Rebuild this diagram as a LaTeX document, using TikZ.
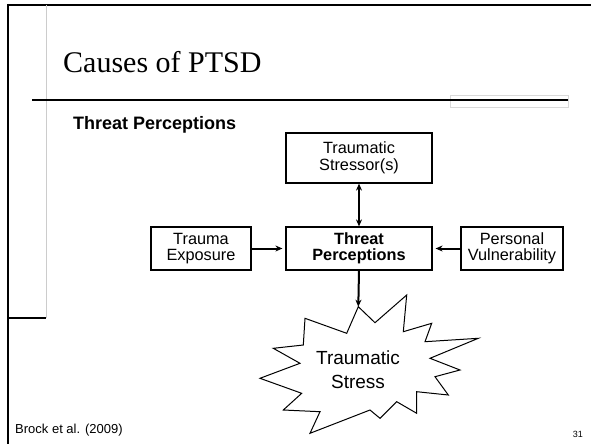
\documentclass[tikz,border=0pt]{standalone}
\usepackage{fontspec}
\setmainfont{Liberation Sans}
\newfontfamily\titlefont{Liberation Serif}
\usetikzlibrary{arrows.meta}
\begin{document}
\begin{tikzpicture}[x=1pt,y=-1pt,
  boxst/.style={draw=black,line width=1.2pt,align=center,inner sep=0pt,
    font=\fontsize{16.3}{16.5}\selectfont},
  conn/.style={line width=2pt,-{Stealth[length=7pt,width=6pt]}},
  rule/.style={line width=2.5pt,black}]
\useasboundingbox (0,0) rectangle (591,444);
% slide frame
\draw[rule,line width=2pt] (7,5) -- (591,5);
\draw[rule,line width=2pt] (8.3,4) -- (8.3,444);
\draw[gray!40,line width=0.8pt] (46,5) -- (46,318);
\draw[rule] (8,318) -- (46,318);
\draw[gray!30,line width=0.9pt] (450,95) rectangle (568,107);
\draw[rule] (32,100) -- (568,100);
% title
\node[anchor=base west,inner sep=0pt,font=\titlefont\fontsize{30}{30}\selectfont] (title) at (63,72) {Causes of PTSD};
\node[anchor=base west,inner sep=0pt,font=\fontsize{18}{18}\selectfont\bfseries] (sub) at (73,129) {Threat Perceptions};
% boxes
\node[boxst,minimum width=146pt,minimum height=50pt] (ts) at (359,158) {Traumatic\\Stressor(s)};
\node[boxst,minimum width=100pt,minimum height=43pt] (te) at (201,248.5) {Trauma\\Exposure};
\node[boxst,minimum width=146pt,minimum height=43pt,font=\fontsize{16.3}{16.5}\selectfont\bfseries] (tp) at (359,248.5) {Threat\\Perceptions};
\node[boxst,minimum width=102pt,minimum height=43pt] (pv) at (512,248.5) {Personal\\Vulnerability};
% starburst
\coordinate (burst) at (358.3,306.7);
\draw[line width=1pt,line join=miter] (burst) -- (375,322.7) -- (406.7,295) -- (403.3,331.7)
  -- (431.7,323.3) -- (425,341.7) -- (478.3,338.3) -- (430,358.3) -- (460,370)
  -- (435,376.7) -- (448.3,395) -- (416.7,391.7) -- (416.7,413.3) -- (396.7,401.7)
  -- (380,418.3) -- (370,410) -- (310,433.3) -- (320,411.7) -- (283.3,410)
  -- (301.7,393.3) -- (260,378.3) -- (300,363.3) -- (273.3,348.3) -- (303.3,345)
  -- (305,318.3) -- (346.7,333.3) -- cycle;
\node[align=center,inner sep=0pt,font=\fontsize{19}{24}\selectfont] (stress) at (358,370) {Traumatic\\Stress};
% connectors
\draw[line width=2pt,{Stealth[length=7pt,width=6pt]}-{Stealth[length=7pt,width=6pt]}] (ts.south) -- (tp.north);
\draw[conn] (te.east) -- ([xshift=-3pt]tp.west);
\draw[conn] (pv.west) -- ([xshift=3pt]tp.east);
\draw[conn] (tp.south) -- (burst);
% footer
\node[anchor=base west,inner sep=0pt,font=\fontsize{13}{13}\selectfont] (cite) at (15,433) {Brock et al. (2009)};
\node[anchor=base east,inner sep=0pt,font=\fontsize{9}{9}\selectfont] (pg) at (583,437) {31};
\end{tikzpicture}
\end{document}
